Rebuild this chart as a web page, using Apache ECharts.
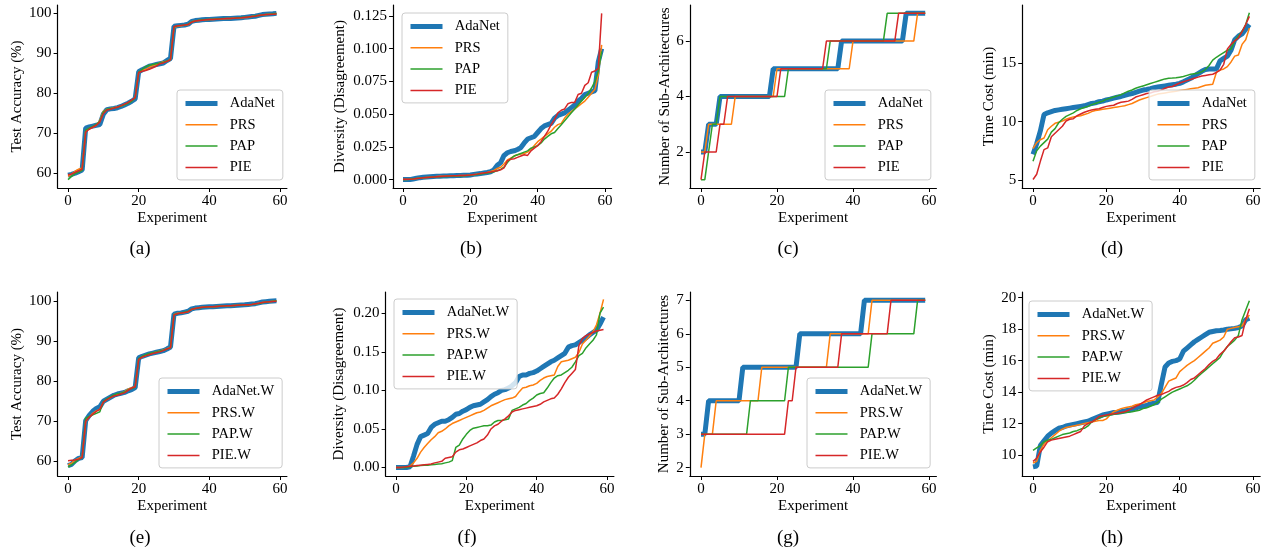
<!DOCTYPE html>
<html>
<head>
<meta charset="utf-8">
<script src="https://cdn.jsdelivr.net/npm/echarts/dist/echarts.min.js"></script>
<style>html,body{margin:0;padding:0;background:#fff}#c{width:1275px;height:553px}</style>
</head>
<body>
<div id="c"></div>
<script>
// ---------------- DATA ----------------
const experiments = Array.from({length: 60}, (_, i) => i);
const seriesNames = ['AdaNet', 'PRS', 'PAP', 'PIE'];
const seriesNamesW = ['AdaNet.W', 'PRS.W', 'PAP.W', 'PIE.W'];
const xTicks = [0, 20, 40, 60];

// (a) Test accuracy
const acc_ada = [59.5,59.7,60.0,60.4,60.8,71.3,71.6,71.8,72.0,72.2,74.8,75.9,76.1,76.2,76.4,76.7,77.1,77.5,78.0,78.6,85.4,85.9,86.3,86.8,87.0,87.2,87.4,87.6,88.2,88.7,96.8,96.9,97.0,97.1,97.3,98.0,98.2,98.3,98.4,98.45,98.5,98.55,98.6,98.65,98.7,98.7,98.75,98.8,98.85,98.9,99.0,99.1,99.2,99.3,99.5,99.7,99.8,99.85,99.9,100.0];
const acc_prs = [59.2,59.8,60.5,61.0,61.3,70.6,71.2,71.5,72.0,73.2,75.5,76.0,76.2,76.4,76.6,76.8,77.2,77.6,78.1,79.0,85.2,85.7,86.0,86.5,86.9,87.2,87.6,87.9,88.0,88.5,96.5,96.8,96.9,97.0,97.2,97.9,98.1,98.2,98.3,98.4,98.45,98.5,98.55,98.6,98.65,98.7,98.75,98.8,98.85,98.9,98.95,99.0,99.2,99.4,99.5,99.6,99.7,99.8,99.9,100.0];
const acc_pap = [58.4,59.2,59.9,60.3,60.7,70.8,71.3,71.7,72.2,73.0,75.3,76.0,76.2,76.3,76.5,76.8,77.1,77.5,78.0,78.9,85.3,86.0,86.7,87.0,87.2,87.4,87.6,87.8,88.1,88.4,96.6,96.9,97.0,97.1,97.3,97.9,98.1,98.3,98.4,98.45,98.5,98.55,98.6,98.65,98.7,98.7,98.75,98.8,98.9,99.0,99.05,99.1,99.2,99.4,99.5,99.6,99.7,99.8,99.9,100.0];
const acc_pie = [59.6,59.8,60.2,60.6,61.0,70.3,71.0,71.5,72.0,72.8,74.9,75.8,76.0,76.3,76.5,76.9,77.3,77.7,78.3,78.9,85.2,85.5,85.7,86.0,86.4,86.8,87.4,87.6,88.0,88.4,96.7,96.9,97.0,97.1,97.2,97.8,98.1,98.2,98.3,98.4,98.45,98.5,98.55,98.6,98.65,98.7,98.75,98.8,98.85,98.9,99.0,99.1,99.2,99.3,99.5,99.6,99.7,99.75,99.8,99.85];

// (b) Diversity
const div_ada = [0,0,0,0.0005,0.001,0.0015,0.0018,0.002,0.0022,0.0024,0.0025,0.0026,0.0027,0.0028,0.0029,0.003,0.0031,0.0032,0.0033,0.0034,0.0036,0.004,0.0043,0.0046,0.005,0.0054,0.006,0.0075,0.011,0.013,0.0185,0.0205,0.0215,0.022,0.023,0.0245,0.028,0.031,0.032,0.033,0.036,0.039,0.041,0.042,0.043,0.047,0.049,0.050,0.051,0.053,0.055,0.057,0.060,0.062,0.065,0.066,0.067,0.068,0.090,0.100];
const div_prs = [0,0,0.0002,0.0005,0.0008,0.0012,0.0015,0.0017,0.0019,0.0021,0.0023,0.0025,0.0026,0.0027,0.0028,0.0029,0.003,0.0031,0.0032,0.0033,0.0035,0.0038,0.0042,0.0046,0.005,0.0055,0.0062,0.007,0.0085,0.0095,0.012,0.015,0.0165,0.018,0.019,0.0195,0.020,0.021,0.023,0.026,0.029,0.031,0.033,0.035,0.037,0.040,0.042,0.043,0.047,0.050,0.052,0.054,0.056,0.058,0.060,0.063,0.066,0.069,0.080,0.103];
const div_pap = [0,0,0.0003,0.0006,0.0009,0.0012,0.0014,0.0016,0.0018,0.002,0.0021,0.0022,0.0023,0.0024,0.0025,0.0026,0.0027,0.0028,0.003,0.0032,0.0034,0.0037,0.004,0.0043,0.0047,0.005,0.0055,0.006,0.0068,0.0078,0.0095,0.013,0.016,0.018,0.019,0.020,0.021,0.022,0.024,0.025,0.026,0.028,0.031,0.033,0.035,0.036,0.039,0.042,0.045,0.048,0.051,0.054,0.057,0.060,0.063,0.066,0.070,0.075,0.083,0.098];
const div_pie = [0.0002,0.0002,0.0003,0.0005,0.0008,0.0011,0.0014,0.0016,0.0018,0.002,0.0022,0.0024,0.0026,0.0027,0.0028,0.0029,0.003,0.0031,0.0032,0.0034,0.0036,0.0039,0.0042,0.0046,0.005,0.0054,0.0058,0.0063,0.0068,0.0075,0.009,0.0145,0.0155,0.016,0.017,0.018,0.019,0.0185,0.022,0.024,0.026,0.029,0.033,0.037,0.042,0.046,0.051,0.053,0.054,0.058,0.059,0.059,0.065,0.066,0.072,0.074,0.082,0.083,0.085,0.127];

// (c) Number of sub-architectures
const arch_ada = [2,2,3,3,3,4,4,4,4,4,4,4,4,4,4,4,4,4,4,5,5,5,5,5,5,5,5,5,5,5,5,5,5,5,5,5,5,6,6,6,6,6,6,6,6,6,6,6,6,6,6,6,6,6,7,7,7,7,7,7];
const arch_prs = [2,2,3,3,3,3,3,3,3,4,4,4,4,4,4,4,4,4,4,4,5,5,5,5,5,5,5,5,5,5,5,5,5,5,5,5,5,5,5,5,6,6,6,6,6,6,6,6,6,6,6,6,6,6,6,6,6,7,7,7];
const arch_pap = [1,1,2,3,3,4,4,4,4,4,4,4,4,4,4,4,4,4,4,4,4,4,4,5,5,5,5,5,5,5,5,5,5,5,6,6,6,6,6,6,6,6,6,6,6,6,6,6,6,7,7,7,7,7,7,7,7,7,7,7];
const arch_pie = [1,2,2,2,2,3,3,4,4,4,4,4,4,4,4,4,4,4,4,4,4,5,5,5,5,5,5,5,5,5,5,5,5,6,6,6,6,6,6,6,6,6,6,6,6,6,6,6,6,6,6,6,7,7,7,7,7,7,7,7];

// (d) Time cost
const time_ada = [7.2,8.1,9.2,10.6,10.75,10.85,10.95,11.0,11.05,11.1,11.15,11.2,11.25,11.3,11.35,11.45,11.55,11.6,11.7,11.75,11.85,11.92,12.0,12.08,12.15,12.25,12.33,12.4,12.5,12.6,12.7,12.75,12.82,12.9,12.95,13.0,13.05,13.1,13.15,13.2,13.27,13.4,13.55,13.7,13.9,14.1,14.3,14.45,14.5,14.5,14.5,15.2,15.4,15.6,16.1,17.0,17.3,17.5,17.9,18.3];
const time_prs = [7.7,8.2,8.45,8.6,9.3,9.6,9.85,9.95,10.05,10.2,10.3,10.4,10.45,10.5,10.6,10.7,10.85,10.95,11.0,11.05,11.1,11.15,11.2,11.25,11.3,11.35,11.45,11.55,11.7,11.85,11.95,12.05,12.15,12.25,12.35,12.4,12.45,12.5,12.55,12.6,12.65,12.7,12.75,12.8,12.85,12.9,13.0,13.1,13.15,13.2,14.2,14.4,14.5,14.7,15.1,15.6,15.7,16.6,17.0,18.0];
const time_pap = [6.6,7.5,7.9,8.2,8.5,9.1,9.4,9.9,10.2,10.45,10.6,10.75,10.95,11.1,11.2,11.3,11.45,11.55,11.65,11.75,11.9,12.0,12.1,12.2,12.3,12.45,12.6,12.7,12.85,12.95,13.05,13.15,13.25,13.35,13.45,13.55,13.65,13.7,13.72,13.75,13.8,13.85,13.95,14.05,14.1,14.15,14.25,14.45,14.8,15.25,15.5,15.7,15.9,16.1,16.2,16.9,17.3,17.7,18.3,19.3];
const time_pie = [5.05,5.5,6.6,7.6,7.75,8.7,9.0,9.3,9.6,10.05,10.2,10.25,10.5,10.65,10.8,10.9,11.0,11.05,11.1,11.2,11.3,11.35,11.4,11.55,11.65,11.7,11.75,11.9,12.1,12.2,12.3,12.4,12.45,12.55,12.6,12.7,12.85,12.95,13.0,13.15,13.3,13.4,13.5,13.6,13.7,13.8,13.9,13.95,14.0,14.05,14.2,14.4,14.9,16.2,16.6,16.9,17.15,17.7,18.3,19.0];

// (e) Test accuracy, W variants
const accw_ada = [59.0,59.3,60.2,60.8,61.0,70.2,71.5,72.5,73.2,73.6,75.0,75.5,76.0,76.5,76.8,77.0,77.2,77.6,77.9,78.4,85.8,86.2,86.5,86.8,87.0,87.2,87.4,87.6,88.0,88.5,96.7,96.9,97.0,97.2,97.4,98.0,98.2,98.3,98.4,98.45,98.5,98.55,98.6,98.65,98.7,98.75,98.8,98.85,98.9,98.95,99.0,99.1,99.2,99.3,99.5,99.7,99.8,99.9,99.95,100.0];
const accw_prs = [59.2,59.6,60.4,60.8,61.2,70.0,71.0,72.0,72.6,73.0,74.8,75.4,75.9,76.4,76.7,77.0,77.4,78.0,78.4,78.6,85.5,86.0,86.4,86.7,87.0,87.3,87.5,87.8,88.1,88.4,96.6,96.9,97.0,97.1,97.3,97.9,98.1,98.3,98.4,98.45,98.5,98.55,98.6,98.65,98.7,98.75,98.8,98.85,98.9,98.95,99.0,99.05,99.1,99.2,99.4,99.6,99.7,99.8,99.9,100.0];
const accw_pap = [58.6,59.2,59.8,60.5,61.0,70.8,71.2,71.6,72.0,72.4,74.9,75.6,76.1,76.6,76.9,77.0,77.3,77.8,78.2,78.5,85.6,86.2,86.6,86.9,87.1,87.3,87.5,87.7,88.0,88.3,96.6,96.8,97.0,97.2,97.4,97.9,98.1,98.2,98.35,98.45,98.5,98.55,98.6,98.65,98.7,98.75,98.8,98.85,98.9,98.95,99.0,99.05,99.1,99.2,99.35,99.55,99.7,99.8,99.9,100.0];
const accw_pie = [60.2,60.3,60.4,60.6,61.0,70.0,71.0,71.8,72.5,73.0,74.8,75.4,75.9,76.3,76.5,76.8,77.1,77.7,78.3,78.6,85.4,86.0,86.3,86.6,86.9,87.1,87.3,87.6,88.0,88.3,96.5,96.8,97.0,97.1,97.3,97.9,98.1,98.3,98.4,98.45,98.5,98.55,98.6,98.65,98.7,98.75,98.8,98.85,98.9,98.95,99.0,99.05,99.1,99.25,99.4,99.6,99.7,99.8,99.85,99.9];

// (f) Diversity, W variants
const divw_ada = [0,0,0,0,0.001,0.015,0.030,0.040,0.042,0.044,0.052,0.056,0.058,0.060,0.060,0.062,0.065,0.069,0.070,0.073,0.075,0.078,0.080,0.081,0.082,0.085,0.088,0.092,0.095,0.097,0.100,0.101,0.103,0.106,0.110,0.118,0.120,0.120,0.122,0.123,0.125,0.128,0.131,0.134,0.137,0.139,0.142,0.145,0.148,0.156,0.158,0.159,0.162,0.165,0.168,0.172,0.175,0.178,0.186,0.195];
const divw_prs = [0,0,0,0.0005,0.002,0.006,0.012,0.020,0.026,0.031,0.036,0.040,0.045,0.047,0.050,0.054,0.057,0.059,0.061,0.063,0.065,0.067,0.069,0.071,0.072,0.074,0.077,0.080,0.082,0.084,0.086,0.088,0.089,0.090,0.092,0.098,0.103,0.104,0.106,0.107,0.109,0.113,0.116,0.118,0.119,0.120,0.131,0.137,0.138,0.139,0.141,0.143,0.149,0.160,0.165,0.170,0.176,0.185,0.200,0.218];
const divw_pap = [0,0,0,0,0.001,0.0015,0.002,0.0025,0.003,0.003,0.0035,0.004,0.0045,0.005,0.006,0.007,0.009,0.026,0.029,0.037,0.043,0.048,0.051,0.052,0.053,0.054,0.054,0.055,0.059,0.061,0.061,0.062,0.063,0.074,0.076,0.078,0.081,0.083,0.087,0.090,0.094,0.096,0.097,0.103,0.110,0.116,0.119,0.120,0.123,0.126,0.130,0.137,0.145,0.148,0.155,0.160,0.165,0.172,0.200,0.208];
const divw_pie = [0,0,0.0005,0.001,0.0015,0.002,0.0025,0.003,0.0035,0.004,0.0045,0.006,0.007,0.008,0.012,0.013,0.014,0.020,0.023,0.024,0.026,0.028,0.030,0.032,0.035,0.037,0.042,0.050,0.054,0.056,0.060,0.063,0.067,0.072,0.074,0.075,0.076,0.077,0.078,0.079,0.080,0.082,0.085,0.087,0.089,0.090,0.095,0.102,0.110,0.117,0.122,0.127,0.158,0.167,0.171,0.173,0.175,0.177,0.178,0.179];

// (g) Number of sub-architectures, W variants
const archw_ada = [3,3,4,4,4,4,4,4,4,4,4,5,5,5,5,5,5,5,5,5,5,5,5,5,5,5,6,6,6,6,6,6,6,6,6,6,6,6,6,6,6,6,6,7,7,7,7,7,7,7,7,7,7,7,7,7,7,7,7,7];
const archw_prs = [2,3,3,3,4,4,4,4,4,4,4,4,4,4,4,4,5,5,5,5,5,5,5,5,5,5,5,5,5,5,5,5,5,5,6,6,6,6,6,6,6,6,6,6,6,7,7,7,7,7,7,7,7,7,7,7,7,7,7,7];
const archw_pap = [3,3,3,3,3,3,3,3,3,3,3,3,3,4,4,4,4,4,4,4,4,4,4,5,5,5,5,5,5,5,5,5,5,5,5,5,5,5,5,5,5,5,5,5,5,6,6,6,6,6,6,6,6,6,6,6,6,7,7,7];
const archw_pie = [3,3,3,3,3,3,3,3,3,3,3,3,3,3,3,3,3,3,3,3,3,3,3,4,4,5,5,5,5,5,5,5,5,5,5,5,5,6,6,6,6,6,6,6,6,6,6,6,6,6,7,7,7,7,7,7,7,7,7,7];

// (h) Time cost, W variants
const timew_ada = [9.25,9.3,10.6,10.9,11.2,11.4,11.55,11.7,11.75,11.85,11.9,11.95,12.0,12.05,12.1,12.15,12.25,12.35,12.45,12.55,12.6,12.65,12.7,12.72,12.75,12.8,12.85,12.9,13.0,13.05,13.1,13.15,13.25,13.3,13.35,14.5,15.6,15.85,15.95,16.0,16.1,16.6,16.8,17.0,17.2,17.35,17.5,17.65,17.8,17.85,17.9,17.92,17.95,18.0,18.02,18.05,18.1,18.2,18.6,18.7];
const timew_prs = [9.5,9.6,10.3,10.7,10.9,11.1,11.3,11.5,11.65,11.75,11.8,11.85,11.9,11.95,12.0,12.05,12.1,12.15,12.2,12.2,12.3,12.55,12.75,12.85,12.95,13.0,13.05,13.1,13.2,13.25,13.3,13.4,13.45,13.5,13.7,13.9,14.3,14.7,14.8,14.9,15.3,15.5,15.7,15.85,16.0,16.2,16.4,16.6,16.8,17.1,17.2,17.3,17.5,18.0,18.05,18.1,18.15,18.2,18.6,18.9];
const timew_pap = [10.3,10.45,10.6,10.85,10.95,11.0,11.1,11.2,11.3,11.35,11.4,11.5,11.55,11.65,11.7,11.85,12.1,12.25,12.35,12.45,12.5,12.55,12.6,12.62,12.65,12.7,12.72,12.75,12.8,12.85,12.95,13.0,13.1,13.2,13.35,13.55,13.7,13.85,14.0,14.1,14.2,14.3,14.4,14.55,14.75,15.0,15.2,15.4,15.6,15.8,16.0,16.2,16.6,16.9,17.1,17.3,17.6,18.6,19.2,19.8];
const timew_pie = [9.6,9.8,10.2,10.5,10.85,10.95,11.0,11.05,11.1,11.15,11.2,11.3,11.4,11.5,11.85,12.0,12.1,12.25,12.45,12.5,12.55,12.6,12.62,12.65,12.7,12.75,12.85,12.95,13.1,13.2,13.35,13.5,13.6,13.7,13.8,13.85,13.95,14.05,14.2,14.3,14.35,14.45,14.6,14.8,14.9,15.1,15.3,15.5,15.75,15.95,16.1,16.4,16.6,16.9,17.2,17.45,17.5,17.6,18.6,19.3];

// ---------------- LAYOUT / STYLE ----------------
const FONT = '"Liberation Serif", "Times New Roman", serif';
const COLORS = ['#1f77b4', '#ff7f0e', '#2ca02c', '#d62728'];
const WIDTHS = [5, 1.5, 1.5, 1.5];

const panels = [
  {cap:'(a)', grid:{left:57.6, top:5, width:229.3, height:183}, ymin:56.3, ymax:102.1, yticks:[60,70,80,90,100], dec:0, yname:'Test Accuracy (%)', ygap:33, names:seriesNames, data:[acc_ada,acc_prs,acc_pap,acc_pie], leg:{left:177, top:90}, capPos:[140,249]},
  {cap:'(b)', grid:{left:393.1, top:5, width:218.5, height:183}, ymin:-0.0064, ymax:0.1334, yticks:[0,0.025,0.05,0.075,0.1,0.125], dec:3, yname:'Diversity (Disagreement)', ygap:46, names:seriesNames, data:[div_ada,div_prs,div_pap,div_pie], leg:{left:402, top:13}, capPos:[471,249]},
  {cap:'(c)', grid:{left:689.8, top:5, width:246.6, height:183}, ymin:0.7, ymax:7.3, yticks:[2,4,6], dec:0, yname:'Number of Sub-Architectures', ygap:17, names:seriesNames, data:[arch_ada,arch_prs,arch_pap,arch_pie], leg:{left:825, top:90}, capPos:[788,249]},
  {cap:'(d)', grid:{left:1022.2, top:5, width:238, height:183}, ymin:4.32, ymax:19.97, yticks:[5,10,15], dec:0, yname:'Time Cost (min)', ygap:26, names:seriesNames, data:[time_ada,time_prs,time_pap,time_pie], leg:{left:1149, top:90}, capPos:[1112,249]},
  {cap:'(e)', grid:{left:57.6, top:292, width:229.3, height:184}, ymin:56.4, ymax:102.2, yticks:[60,70,80,90,100], dec:0, yname:'Test Accuracy (%)', ygap:33, names:seriesNamesW, data:[accw_ada,accw_prs,accw_pap,accw_pie], leg:{left:159, top:378}, capPos:[140,538]},
  {cap:'(f)', grid:{left:385.6, top:292, width:228.3, height:184}, ymin:-0.011, ymax:0.2275, yticks:[0,0.05,0.1,0.15,0.2], dec:2, yname:'Diversity (Disagreement)', ygap:39, names:seriesNamesW, data:[divw_ada,divw_prs,divw_pap,divw_pie], leg:{left:394, top:299}, capPos:[467,538]},
  {cap:'(g)', grid:{left:689.8, top:292, width:246.6, height:184}, ymin:1.75, ymax:7.25, yticks:[2,3,4,5,6,7], dec:0, yname:'Number of Sub-Architectures', ygap:18, names:seriesNamesW, data:[archw_ada,archw_prs,archw_pap,archw_pie], leg:{left:807, top:378}, capPos:[788,538]},
  {cap:'(h)', grid:{left:1022.2, top:292, width:238, height:184}, ymin:8.67, ymax:20.36, yticks:[10,12,14,16,18,20], dec:0, yname:'Time Cost (min)', ygap:26, names:seriesNamesW, data:[timew_ada,timew_prs,timew_pap,timew_pie], leg:{left:1029, top:301}, capPos:[1112,538]}
];

const axisCommon = {
  axisLine: {show: true, onZero: false, lineStyle: {color: '#000', width: 1.2}},
  axisTick: {show: true, inside: false, length: 4, lineStyle: {color: '#000', width: 1}},
  splitLine: {show: false},
  nameTextStyle: {fontFamily: FONT, fontSize: 15, color: '#000'}
};

const option = {animation: false, backgroundColor: '#fff', grid: [], xAxis: [], yAxis: [], series: [], legend: [], graphic: []};

panels.forEach((p, k) => {
  option.grid.push(Object.assign({containLabel: false}, p.grid));
  option.xAxis.push(Object.assign({}, axisCommon, {
    type: 'value', gridIndex: k, min: -2.95, max: 61.95,
    name: 'Experiment', nameLocation: 'middle', nameGap: 23,
    axisTick: Object.assign({}, axisCommon.axisTick, {customValues: xTicks}),
    axisLabel: {customValues: xTicks, fontFamily: FONT, fontSize: 15, color: '#000', margin: 6}
  }));
  option.yAxis.push(Object.assign({}, axisCommon, {
    type: 'value', gridIndex: k, min: p.ymin, max: p.ymax,
    name: p.yname, nameLocation: 'middle', nameGap: p.ygap, nameRotate: 90,
    axisTick: Object.assign({}, axisCommon.axisTick, {customValues: p.yticks}),
    axisLabel: {customValues: p.yticks, fontFamily: FONT, fontSize: 15, color: '#000', margin: 6,
      formatter: v => Number(v).toFixed(p.dec)}
  }));
  p.data.forEach((arr, j) => {
    option.series.push({
      type: 'line', name: p.names[j], xAxisIndex: k, yAxisIndex: k,
      data: arr.map((v, i) => [experiments[i], v]),
      symbol: 'none', z: 2 + j,
      lineStyle: {color: COLORS[j], width: WIDTHS[j]},
      itemStyle: {color: COLORS[j]}
    });
  });
  option.legend.push({
    show: true, z: 10,
    orient: 'vertical', left: p.leg.left, top: p.leg.top,
    data: p.names.map((n, j) => ({name: n, itemStyle: {opacity: 0}, lineStyle: {color: COLORS[j], width: WIDTHS[j], opacity: 1}})),
    itemWidth: 32, itemHeight: 14, itemGap: 6.3,
    padding: [6, 8, 5, 6],
    borderColor: '#cccccc', borderWidth: 1, borderRadius: 3,
    backgroundColor: 'rgba(255,255,255,0.8)',
    formatter: name => '  ' + name,
    textStyle: {fontFamily: FONT, fontSize: 14.5, color: '#000'},
    selectedMode: false
  });
  option.graphic.push({
    type: 'text', x: p.capPos[0], y: p.capPos[1],
    style: {text: p.cap, fontFamily: FONT, fontSize: 19, fill: '#000', align: 'center', verticalAlign: 'middle'}
  });
});

const chart = echarts.init(document.getElementById('c'), null, {renderer: 'canvas'});
chart.setOption(option);
</script>
</body>
</html>
